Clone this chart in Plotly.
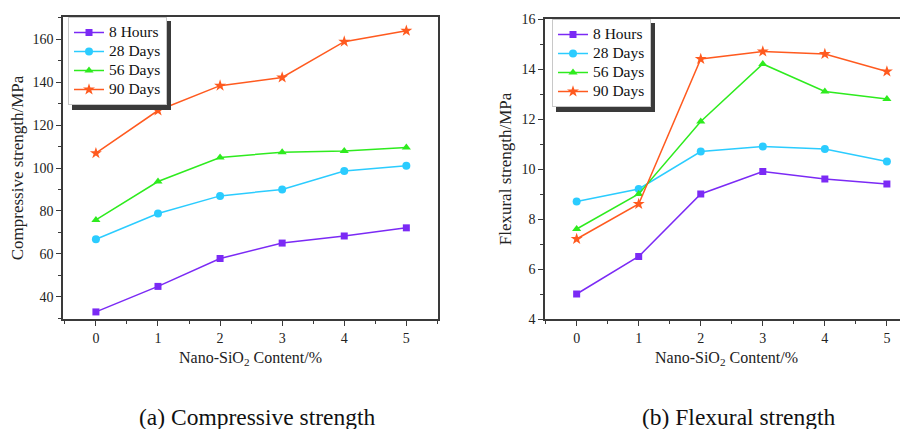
import plotly.graph_objects as go

# ---- data ----
content = [0, 1, 2, 3, 4, 5]
series_names = ["8 Hours", "28 Days", "56 Days", "90 Days"]

comp_8h = [32.9, 44.8, 57.8, 65.0, 68.3, 72.1]
comp_28d = [66.8, 78.8, 87.0, 90.0, 98.6, 101.1]
comp_56d = [75.8, 93.7, 104.9, 107.4, 107.9, 109.6]
comp_90d = [106.9, 126.8, 138.4, 142.2, 158.9, 164.0]

flex_8h = [5.0, 6.5, 9.0, 9.9, 9.6, 9.4]
flex_28d = [8.7, 9.2, 10.7, 10.9, 10.8, 10.3]
flex_56d = [7.6, 9.0, 11.9, 14.2, 13.1, 12.8]
flex_90d = [7.2, 8.6, 14.4, 14.7, 14.6, 13.9]

x_tick_vals = [0, 1, 2, 3, 4, 5]

# ---- styles ----
colors = ["#7B2AF5", "#2BCCFF", "#2EEB1E", "#FF5A1F"]
symbols = ["square", "circle", "triangle-up", "star"]
msizes = [7, 8, 8, 9]
FONT = "Liberation Serif"
LEG_TXT = "<span style='font-size:15.5px'>{}</span>"

fig = go.Figure()

comp = [comp_8h, comp_28d, comp_56d, comp_90d]
flex = [flex_8h, flex_28d, flex_56d, flex_90d]

for i, name in enumerate(series_names):
    fig.add_trace(go.Scatter(
        x=content, y=comp[i], name=LEG_TXT.format(name), mode="lines+markers",
        line=dict(color=colors[i], width=1.5),
        marker=dict(symbol=symbols[i], size=msizes[i], color=colors[i]),
        xaxis="x", yaxis="y", legend="legend"))
for i, name in enumerate(series_names):
    fig.add_trace(go.Scatter(
        x=content, y=flex[i], name=LEG_TXT.format(name), mode="lines+markers",
        line=dict(color=colors[i], width=1.5),
        marker=dict(symbol=symbols[i], size=msizes[i], color=colors[i]),
        xaxis="x2", yaxis="y2", legend="legend2"))

W, H = 908, 429
OFF = 8  # page body margin offset

def px_x(p):
    return (p - OFF) / W

def px_y(p):
    return 1 - (p - OFF) / H

axis_common = dict(
    showline=True, linecolor="#3a3a3a", linewidth=1.5, mirror=True,
    ticks="outside", ticklen=5, tickwidth=1.2, tickcolor="#3a3a3a",
    showgrid=False, zeroline=False, automargin=False,
    tickfont=dict(family=FONT, size=14, color="#222"),
)

xtitle = dict(text="Nano-SiO<sub>2</sub> Content/%",
              font=dict(family=FONT, size=16, color="#222"), standoff=7)

fig.update_layout(
    template="none",
    width=W, height=H,
    margin=dict(l=0, r=0, t=0, b=0, pad=0),
    paper_bgcolor="white", plot_bgcolor="white",
    font=dict(family=FONT, color="#222"),
    xaxis=dict(axis_common, domain=[px_x(63), px_x(438)], range=[-0.53, 5.51],
               tickvals=x_tick_vals, anchor="y",
               minor=dict(ticks="outside", ticklen=3, dtick=0.5, tick0=0, tickcolor="#3a3a3a"),
               title=xtitle),
    yaxis=dict(axis_common, domain=[px_y(319), px_y(17)], range=[29.6, 170.4],
               dtick=20, tick0=0, anchor="x",
               minor=dict(ticks="outside", ticklen=3, dtick=10, tick0=0, tickcolor="#3a3a3a"),
               title=dict(text="Compressive strength/MPa",
                          font=dict(family=FONT, size=17, color="#222"), standoff=6)),
    xaxis2=dict(axis_common, domain=[px_x(545), px_x(908)], range=[-0.51, 5.34],
                tickvals=x_tick_vals, anchor="y2",
                minor=dict(ticks="outside", ticklen=3, dtick=0.5, tick0=0, tickcolor="#3a3a3a"),
                title=xtitle),
    yaxis2=dict(axis_common, domain=[px_y(319), px_y(19)], range=[4, 16],
                dtick=2, tick0=0, anchor="x2",
                minor=dict(ticks="outside", ticklen=3, dtick=1, tick0=0, tickcolor="#3a3a3a"),
                title=dict(text="Flexural strength/MPa",
                           font=dict(family=FONT, size=17, color="#222"), standoff=6)),
    legend=dict(x=px_x(68), y=px_y(17), xanchor="left", yanchor="top",
                bgcolor="white", bordercolor="#c8c8c8", borderwidth=1,
                font=dict(family=FONT, size=12, color="#111"),
                itemwidth=30, tracegroupgap=0),
    legend2=dict(x=px_x(552), y=px_y(19), xanchor="left", yanchor="top",
                 bgcolor="white", bordercolor="#c8c8c8", borderwidth=1,
                 font=dict(family=FONT, size=12, color="#111"),
                 itemwidth=30, tracegroupgap=0),
    showlegend=True,
)

# legend drop shadows
fig.add_shape(type="rect", xref="paper", yref="paper",
              x0=px_x(72), x1=px_x(171), y0=px_y(110), y1=px_y(21),
              fillcolor="#3a3a3a", line=dict(width=0), layer="above")
fig.add_shape(type="rect", xref="paper", yref="paper",
              x0=px_x(556), x1=px_x(655), y0=px_y(112), y1=px_y(23),
              fillcolor="#3a3a3a", line=dict(width=0), layer="above")

# captions
fig.add_annotation(text="(a) Compressive strength", xref="paper", yref="paper",
                   x=px_x(258), y=px_y(417), showarrow=False,
                   xanchor="center", yanchor="middle",
                   font=dict(family=FONT, size=23.5, color="#111"))
fig.add_annotation(text="(b) Flexural strength", xref="paper", yref="paper",
                   x=px_x(738), y=px_y(417), showarrow=False,
                   xanchor="center", yanchor="middle",
                   font=dict(family=FONT, size=23.5, color="#111"))

fig.write_html("out.html")
